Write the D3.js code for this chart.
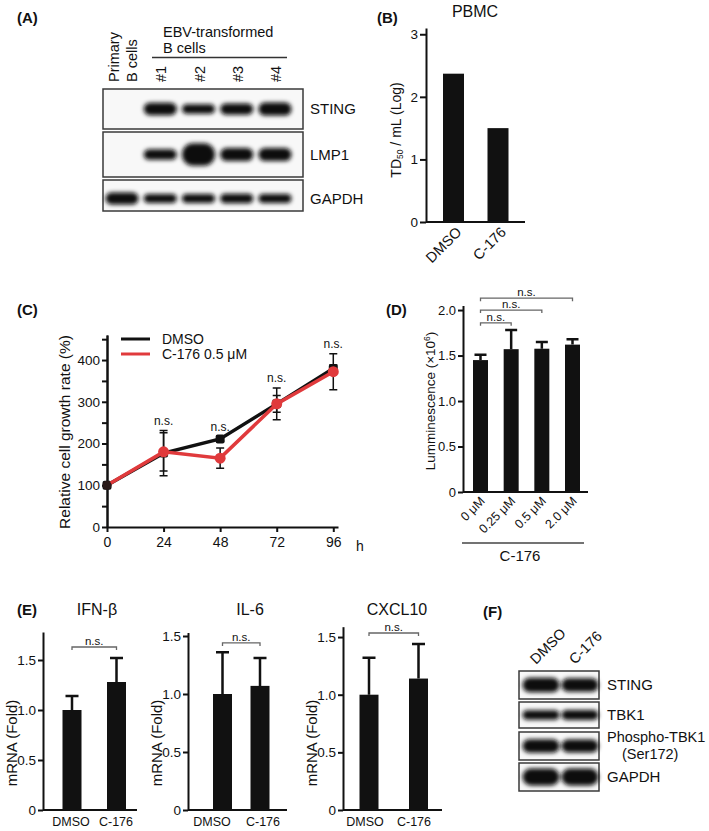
<!DOCTYPE html>
<html>
<head>
<meta charset="utf-8">
<script src="https://cdn.jsdelivr.net/npm/d3@7"></script>
<style>
  body { margin: 0; background: #fff; }
  svg text { font-family: "Liberation Sans", Arial, sans-serif; fill: #111; }
  .axis path, .axis line { stroke: #111; stroke-width: 2; }
</style>
</head>
<body>
<div id="fig"></div>
<script>
// ---------- data ----------
// (A) western blot, band strength per lane
const lanesA = [["Primary", "B cells"], ["#1"], ["#2"], ["#3"], ["#4"]];
const stingA = [0, 1.0, 0.75, 0.9, 1.05];
const lmp1A = [0, 0.85, 1.8, 1.05, 1.05];
const gapdhA = [1.0, 0.75, 0.75, 0.8, 0.75];

// (B) PBMC TD50
const pbmcGroups = ["DMSO", "C-176"];
const pbmcTD50 = [2.37, 1.50];

// (C) growth curve
const hours = [0, 24, 48, 72, 96];
const growthDMSO = [100, 177, 211, 295, 380];
const growthDMSOErr = [0, 54, 5, 20, 8];
const growthC176 = [100, 180, 165, 295, 372];
const growthC176Err = [0, 46, 24, 38, 43];
const growthSig = ["", "n.s.", "n.s.", "n.s.", "n.s."];

// (D) luminescence
const doses = ["0 μM", "0.25 μM", "0.5 μM", "2.0 μM"];
const lumMean = [1.45, 1.57, 1.575, 1.62];
const lumErr = [0.06, 0.21, 0.075, 0.06];
const lumCompare = [[0, 3, 2.13], [0, 2, 2.0], [0, 1, 1.86]];

// (E) mRNA
const mrnaGroups = ["DMSO", "C-176"];
const ifnMean = [1.0, 1.28], ifnErr = [0.14, 0.24];
const il6Mean = [1.0, 1.07], il6Err = [0.36, 0.24];
const cxclMean = [1.0, 1.14], cxclErr = [0.32, 0.30];

// (F) western blot
const lanesF = ["DMSO", "C-176"];
const stingF = [1.05, 0.95];
const tbk1F = [0.8, 0.85];
const pTbk1F = [1.0, 0.95];
const gapdhF = [1.25, 1.25];

// ---------- setup ----------
const svg = d3.select("#fig").append("svg")
  .attr("width", 709)
  .attr("height", 831);

svg.append("defs").append("filter")
  .attr("id", "blur")
  .attr("x", "-40%").attr("y", "-100%")
  .attr("width", "180%").attr("height", "300%")
  .append("feGaussianBlur")
  .attr("stdDeviation", 1.9);

const fmt1 = d => d === 0 ? "0" : d3.format(".1f")(d);

function panelLabel(t, x, y) {
  svg.append("text").attr("x", x).attr("y", y)
    .attr("font-size", 15).attr("font-weight", "bold").text(t);
}

function leftAxis(y, x, ticks, fmt, size, tick) {
  return svg.append("g").attr("class", "axis")
    .attr("transform", "translate(" + x + ",0)")
    .call(d3.axisLeft(y).tickValues(ticks).tickFormat(fmt)
      .tickSize(tick || 5).tickPadding(2).tickSizeOuter(0))
    .attr("font-size", size);
}

function baseLine(x1, x2, yy) {
  svg.append("line").attr("x1", x1).attr("x2", x2).attr("y1", yy).attr("y2", yy)
    .attr("stroke", "#111").attr("stroke-width", 2);
}

function bracket(xa, xb, yy, label) {
  svg.append("path")
    .attr("d", "M" + xa + "," + (yy + 3) + "V" + yy + "H" + xb + "V" + (yy + 3))
    .attr("fill", "none").attr("stroke", "#666").attr("stroke-width", 1.3);
  svg.append("text").attr("x", (xa + xb) / 2).attr("y", yy - 2)
    .attr("text-anchor", "middle").attr("font-size", 11.5).attr("fill", "#333")
    .text(label);
}

// bar chart with upper whiskers
function barsWithErr(x, groups, y, means, errs, w, capW) {
  const g = svg.append("g");
  g.selectAll("rect").data(means).enter().append("rect")
    .attr("x", (d, i) => x(groups[i]) - w / 2)
    .attr("y", d => y(d))
    .attr("width", w)
    .attr("height", d => y(0) - y(d))
    .attr("fill", "#111");
  if (!errs) return;
  g.selectAll("path.err").data(means).enter().append("path")
    .attr("class", "err")
    .attr("d", (d, i) => {
      const cx = x(groups[i]);
      const top = y(d + errs[i]);
      return "M" + cx + "," + y(d) + "V" + top + "M" + (cx - capW / 2) + "," + top + "H" + (cx + capW / 2);
    })
    .attr("fill", "none").attr("stroke", "#111").attr("stroke-width", 2.5);
}

// western blot panel
function blot(lx, rows, lanes, laneX, bandW, x0, x1) {
  rows.forEach(r => {
    svg.append("rect").attr("x", x0).attr("y", r.y0)
      .attr("width", x1 - x0).attr("height", r.y1 - r.y0)
      .attr("fill", "#f8f8f8").attr("stroke", "#3a3a3a").attr("stroke-width", 1.5);
    const cy = (r.y0 + r.y1) / 2 + (r.dy || 0);
    svg.append("g").attr("filter", "url(#blur)")
      .selectAll("rect").data(r.data.map((v, i) => ({v: v, lane: lanes[i]})).filter(d => d.v > 0))
      .enter().append("rect")
      .attr("x", d => laneX(d.lane) - bandW / 2)
      .attr("y", d => cy - r.h * d.v / 2)
      .attr("width", bandW)
      .attr("height", d => r.h * d.v)
      .attr("rx", d => Math.min(bandW / 2, r.h * d.v / 2))
      .attr("fill", "#0d0d0d");
    if (Array.isArray(r.label)) {
      svg.append("text").attr("x", lx).attr("y", cy - 4).attr("font-size", 14.5).text(r.label[0]);
      svg.append("text").attr("x", lx + 15).attr("y", cy + 13).attr("font-size", 14.5).text(r.label[1]);
    } else {
      svg.append("text").attr("x", lx).attr("y", cy + 5).attr("font-size", 15).text(r.label);
    }
  });
}

// ---------- (A) ----------
panelLabel("(A)", 17, 23);
const laneKeysA = lanesA.map(d => d.join(" "));
const xA = d3.scalePoint().domain(laneKeysA).range([122, 275]);
lanesA.forEach((lines, i) => {
  const cx = xA(laneKeysA[i]);
  lines.forEach((s, k) => {
    const bx = cx + 6 - (lines.length - 1) * 9 + k * 18;
    svg.append("text")
      .attr("transform", "translate(" + bx + ",82) rotate(-90)")
      .attr("font-size", 14.5).text(s);
  });
});
svg.append("text").attr("x", 163).attr("y", 37).attr("font-size", 14.5).text("EBV-transformed");
svg.append("text").attr("x", 163).attr("y", 53).attr("font-size", 14.5).text("B cells");
svg.append("line").attr("x1", 152).attr("x2", 287).attr("y1", 57.5).attr("y2", 57.5)
  .attr("stroke", "#333").attr("stroke-width", 1.5);

blot(310, [
  {label: "STING", y0: 89, y1: 129, h: 12.5, data: stingA},
  {label: "LMP1", y0: 132, y1: 177, h: 12.5, data: lmp1A},
  {label: "GAPDH", y0: 180, y1: 211, h: 12, data: gapdhA, dy: 3}
], laneKeysA, xA, 33, 103, 303);

// ---------- (B) ----------
panelLabel("(B)", 377, 23);
svg.append("text").attr("x", 475).attr("y", 17).attr("text-anchor", "middle")
  .attr("font-size", 16).text("PBMC");
const xB = d3.scalePoint().domain(pbmcGroups).range([453.5, 498]);
const yB = d3.scaleLinear().domain([0, 3.1]).range([222, 28]);
leftAxis(yB, 426, [0, 1, 2, 3], d3.format("d"), 13.5, 6);
baseLine(426, 525, 222);
barsWithErr(xB, pbmcGroups, yB, pbmcTD50, null, 21, 0);
pbmcGroups.forEach(gname => {
  svg.append("text")
    .attr("transform", "translate(" + (xB(gname) + 9) + ",233) rotate(-45)")
    .attr("text-anchor", "end").attr("font-size", 14.5).text(gname);
});
const tdLab = svg.append("text")
  .attr("transform", "translate(401,130) rotate(-90)")
  .attr("text-anchor", "middle").attr("font-size", 14);
tdLab.append("tspan").text("TD");
tdLab.append("tspan").attr("font-size", 8.5).attr("dy", 2).text("50");
tdLab.append("tspan").attr("dy", -2).text(" / mL (Log)");

// ---------- (C) ----------
panelLabel("(C)", 17, 315);
const xC = d3.scaleLinear().domain([0, 98]).range([107, 338]);
const yC = d3.scaleLinear().domain([0, 460]).range([527, 335]);
svg.append("g").attr("class", "axis")
  .attr("transform", "translate(107,0)")
  .call(d3.axisLeft(yC).tickValues(d3.range(50, 451, 100)).tickFormat("").tickSize(5).tickSizeOuter(0));
leftAxis(yC, 107, [0, 100, 200, 300, 400], d3.format("d"), 13.5);
svg.append("g").attr("class", "axis")
  .attr("transform", "translate(0,527)")
  .call(d3.axisBottom(xC).tickValues(hours).tickFormat(d3.format("d"))
    .tickSize(5).tickPadding(5).tickSizeOuter(0))
  .attr("font-size", 14);
svg.append("text").attr("x", 356).attr("y", 551).attr("font-size", 14).text("h");
svg.append("text")
  .attr("transform", "translate(70,432) rotate(-90)")
  .attr("text-anchor", "middle").attr("font-size", 15.5)
  .text("Relative cell growth rate (%)");

const series = [
  {name: "DMSO", mean: growthDMSO, err: growthDMSOErr, color: "#111", w: 3.5},
  {name: "C-176 0.5 μM", mean: growthC176, err: growthC176Err, color: "#e03a3c", w: 3.5}
];
const lineC = d3.line().x((d, i) => xC(hours[i])).y(d => yC(d));
series.forEach(s => {
  svg.append("g").selectAll("path").data(s.mean).enter().append("path")
    .attr("d", (d, i) => {
      if (!s.err[i]) return "";
      const cx = xC(hours[i]), t = yC(d + s.err[i]), b = yC(d - s.err[i]);
      return "M" + cx + "," + t + "V" + b + "M" + (cx - 4) + "," + t + "H" + (cx + 4) + "M" + (cx - 4) + "," + b + "H" + (cx + 4);
    })
    .attr("fill", "none").attr("stroke", "#111").attr("stroke-width", 1.5);
});
series.forEach((s, si) => {
  svg.append("path").datum(s.mean).attr("d", lineC)
    .attr("fill", "none").attr("stroke", s.color).attr("stroke-width", s.w);
  const pts = svg.append("g").selectAll("path").data(s.mean).enter();
  if (si === 0) {
    pts.append("rect")
      .attr("x", (d, i) => xC(hours[i]) - 4.5).attr("y", d => yC(d) - 4.5)
      .attr("width", 9).attr("height", 9).attr("rx", 2).attr("fill", s.color);
  } else {
    pts.append("circle")
      .attr("cx", (d, i) => xC(hours[i])).attr("cy", d => yC(d))
      .attr("r", (d, i) => i === 0 ? 3.5 : 5.5).attr("fill", s.color);
  }
});
svg.append("circle").attr("cx", xC(hours[0])).attr("cy", yC(growthDMSO[0])).attr("r", 4.5).attr("fill", "#2a1a18");
hours.forEach((h, i) => {
  if (!growthSig[i]) return;
  const top = Math.max(growthDMSO[i] + growthDMSOErr[i], growthC176[i] + growthC176Err[i]);
  svg.append("text").attr("x", xC(h)).attr("y", yC(top) - 6)
    .attr("text-anchor", "middle").attr("font-size", 12).attr("fill", "#333").text(growthSig[i]);
});
series.forEach((s, i) => {
  const ly = 339 + i * 15;
  svg.append("line").attr("x1", 121).attr("x2", 150).attr("y1", ly).attr("y2", ly)
    .attr("stroke", s.color).attr("stroke-width", 3);
  svg.append("text").attr("x", 162).attr("y", ly + 5).attr("font-size", 14).text(s.name);
});

// ---------- (D) ----------
panelLabel("(D)", 386, 315);
const xD = d3.scalePoint().domain(doses).range([480.5, 572.5]);
const yD = d3.scaleLinear().domain([0, 2.05]).range([492, 305.5]);
leftAxis(yD, 463, [0, 0.5, 1.0, 1.5, 2.0], fmt1, 13);
baseLine(463, 588, 492);
barsWithErr(xD, doses, yD, lumMean, lumErr, 15, 12);
doses.forEach(dname => {
  svg.append("text")
    .attr("transform", "translate(" + (xD(dname) + 5) + ",502) rotate(-45)")
    .attr("text-anchor", "end").attr("font-size", 12.5).text(dname);
});
lumCompare.forEach(c => bracket(xD(doses[c[0]]), xD(doses[c[1]]), yD(c[2]), "n.s."));
svg.append("line").attr("x1", 462).attr("x2", 584).attr("y1", 543).attr("y2", 543)
  .attr("stroke", "#444").attr("stroke-width", 1.5);
svg.append("text").attr("x", 520).attr("y", 561).attr("text-anchor", "middle")
  .attr("font-size", 15).text("C-176");
const lumLab = svg.append("text")
  .attr("transform", "translate(435,401) rotate(-90)")
  .attr("text-anchor", "middle").attr("font-size", 13.5);
lumLab.append("tspan").text("Lumminescence (×10");
lumLab.append("tspan").attr("font-size", 8.5).attr("dy", -5).text("6");
lumLab.append("tspan").attr("dy", 5).text(")");

// ---------- (E) ----------
panelLabel("(E)", 17, 615);
const mrnaPanels = [
  {title: "IFN-β", mean: ifnMean, err: ifnErr, ax: 43, end: 137, top: 1.78, unit: 100, centers: [72, 116.5], labels: [71, 116], tx: 97, ns: 1.63},
  {title: "IL-6", mean: il6Mean, err: il6Err, ax: 188, end: 287, top: 1.53, unit: 116, centers: [222.5, 260], labels: [212, 263], tx: 250, ns: 1.44},
  {title: "CXCL10", mean: cxclMean, err: cxclErr, ax: 343, end: 442, top: 1.59, unit: 115.3, centers: [369, 418.5], labels: [365, 414], tx: 397, ns: 1.535}
];
mrnaPanels.forEach(p => {
  const x = d3.scalePoint().domain(mrnaGroups).range(p.centers);
  const xl = d3.scalePoint().domain(mrnaGroups).range(p.labels);
  const y = d3.scaleLinear().domain([0, p.top]).range([810, 810 - p.top * p.unit]);
  leftAxis(y, p.ax, [0, 0.5, 1.0, 1.5], fmt1, 13.5);
  baseLine(p.ax, p.end, 810);
  barsWithErr(x, mrnaGroups, y, p.mean, p.err, 19, 13);
  bracket(x(mrnaGroups[0]), x(mrnaGroups[1]), y(p.ns), "n.s.");
  mrnaGroups.forEach(gname => {
    svg.append("text").attr("x", xl(gname)).attr("y", 826)
      .attr("text-anchor", "middle").attr("font-size", 12.5).text(gname);
  });
  svg.append("text").attr("x", p.tx).attr("y", 615).attr("text-anchor", "middle")
    .attr("font-size", 16).text(p.title);
  svg.append("text")
    .attr("transform", "translate(" + (p.ax - 26) + ",743) rotate(-90)")
    .attr("text-anchor", "middle").attr("font-size", 15).text("mRNA (Fold)");
});

// ---------- (F) ----------
panelLabel("(F)", 483, 617);
const xF = d3.scalePoint().domain(lanesF).range([541, 580]);
lanesF.forEach(l => {
  svg.append("text")
    .attr("transform", "translate(" + (xF(l) - 5) + ",665) rotate(-45)")
    .attr("font-size", 14.5).text(l);
});
blot(607, [
  {label: "STING", y0: 671, y1: 699, h: 14, data: stingF},
  {label: "TBK1", y0: 702, y1: 728, h: 12, data: tbk1F},
  {label: ["Phospho-TBK1", "(Ser172)"], y0: 732, y1: 760, h: 13.5, data: pTbk1F},
  {label: "GAPDH", y0: 763, y1: 791, h: 13.5, data: gapdhF}
], lanesF, xF, 37, 519, 599);
</script>
</body>
</html>
